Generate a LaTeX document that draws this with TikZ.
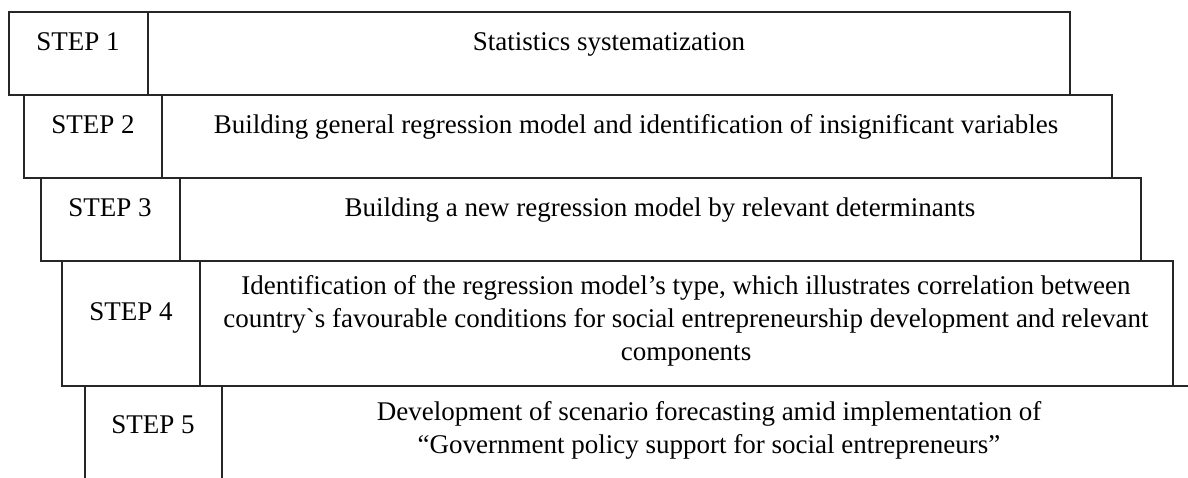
\documentclass[tikz,border=0pt]{standalone}
\usepackage{fontspec}
\setmainfont{Liberation Serif}[Ligatures=TeXOff]
\begin{document}
\begin{tikzpicture}[x=1pt,y=-1pt,
  frame/.style={draw=black!85,line width=1.5pt},
  lbl/.style={inner sep=0pt,anchor=base,font=\fontsize{27}{33}\selectfont},
  txt/.style={inner sep=0pt,align=center,font=\fontsize{27}{33}\selectfont}]
\useasboundingbox (0,0) rectangle (1188,478);
% step 1
\draw[frame] (9,12) rectangle (1070,95);
\draw[frame] (148,12) -- (148,95);
% step 2
\draw[frame] (24,95) rectangle (1112,178);
\draw[frame] (162,95) -- (162,178);
% step 3
\draw[frame] (41,178) rectangle (1141,261);
\draw[frame] (180,178) -- (180,261);
% step 4
\draw[frame] (62,261) rectangle (1173,386);
\draw[frame] (200,261) -- (200,386);
% step 5 (open)
\draw[frame] (85,478) -- (85,386) -- (1188,386);
\draw[frame] (222,386) -- (222,478);
% labels
\node[lbl] (s1) at (78,51) {STEP 1};
\node[lbl] (t1) at (609,51) {Statistics systematization};
\node[lbl] (s2) at (93,134) {STEP 2};
\node[lbl] (t2) at (636,134) {Building general regression model and identification of insignificant variables};
\node[lbl] (s3) at (110,217) {STEP 3};
\node[lbl] (t3) at (660,217) {Building a new regression model by relevant determinants};
\node[lbl] (s4) at (131,320) {STEP 4};
\node[txt] (t4) at (686,321) {Identification of the regression model’s type, which illustrates correlation between\\country`s favourable conditions for social entrepreneurship development and relevant\\components};
\node[lbl] (s5) at (153,433) {STEP 5};
\node[txt] (t5) at (709,430) {Development of scenario forecasting amid implementation of\\“Government policy support for social entrepreneurs”};
\end{tikzpicture}
\end{document}
